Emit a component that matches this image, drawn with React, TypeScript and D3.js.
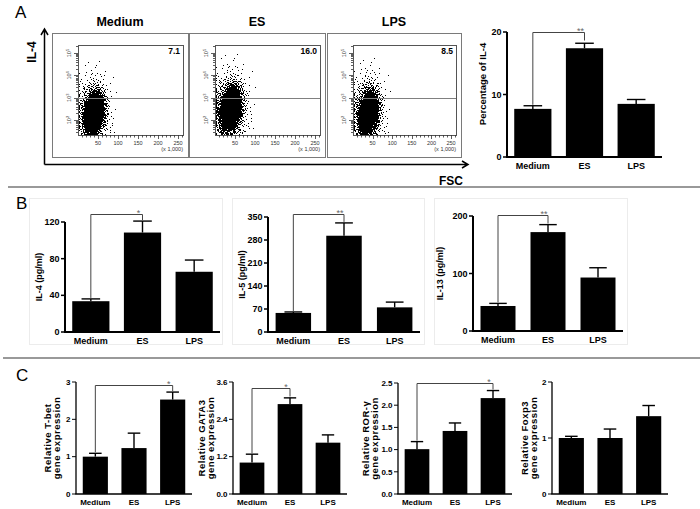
import { useEffect, useRef } from 'react'
import * as d3 from 'd3'

const categories = ['Medium', 'ES', 'LPS']

// A: flow cytometry (IL-4 vs FSC)
const flowTitles = ['Medium', 'ES', 'LPS']
const gatePercent = [7.1, 16.0, 8.5]
const gateLabels = ['7.1', '16.0', '8.5']
const fscCentre = [38, 38, 38] // x1,000
const fscSpread = [11, 12, 11]
const il4LogSpread = [0.42, 0.44, 0.44]
const flowXTicks = [50, 100, 150, 200, 250]
const flowDecades = [2, 3, 4, 5]

// A: percentage of IL-4
const il4Percent = [7.7, 17.4, 8.5]
const il4PercentErr = [0.5, 0.8, 0.7]
const pctTicks = [0, 10, 20]

// B: cytokines
const il4Conc = [33.6, 108.5, 65.7]
const il4ConcErr = [2.5, 12.5, 12.8]
const il4Ticks = [0, 40, 80, 120]
const il5Conc = [58, 293, 75]
const il5ConcErr = [3, 39, 16]
const il5Ticks = [0, 70, 140, 210, 280, 350]
const il13Conc = [43.5, 172, 93]
const il13ConcErr = [4.5, 13, 17]
const il13Ticks = [0, 100, 200]

// C: gene expression
const tbet = [1.0, 1.23, 2.53]
const tbetErr = [0.09, 0.4, 0.2]
const tbetTicks = [0, 1, 2, 3]
const gata3 = [1.01, 2.89, 1.65]
const gata3Err = [0.27, 0.2, 0.25]
const gata3Ticks = [0, 1.2, 2.4, 3.6]
const rorg = [1.01, 1.42, 2.16]
const rorgErr = [0.17, 0.18, 0.17]
const rorgTicks = [0, 0.5, 1, 1.5, 2, 2.5]
const foxp3 = [1.0, 1.0, 1.39]
const foxp3Err = [0.03, 0.16, 0.19]
const foxp3Ticks = [0, 1, 2]

const FONT = '"Liberation Sans", Arial, Helvetica, sans-serif'

type Panel = {
  values: number[]; errors: number[]; ticks: number[]; fmt: (v: number) => string
  label: string[]; sig?: [number, number, string]
  x0: number; x1: number; y0: number; y1: number; bracketY?: number
  labelX: number[]; labelY?: number; font: number; labelFont: number; pad: number; axisW: number
}

const f0 = d3.format('d')
const f1 = d3.format('.1f')

const panels: Panel[] = [
  { values: il4Percent, errors: il4PercentErr, ticks: pctTicks, fmt: f0, label: ['Percentage of IL-4'], sig: [0, 1, '**'],
    x0: 507, x1: 662, y0: 157, y1: 32, bracketY: 32, labelX: [483], labelY: 84, font: 9, labelFont: 9.5, pad: 0.28, axisW: 2 },
  { values: il4Conc, errors: il4ConcErr, ticks: il4Ticks, fmt: f0, label: ['IL-4 (pg/ml)'], sig: [0, 1, '*'],
    x0: 65, x1: 220, y0: 332, y1: 222, bracketY: 214, labelX: [39], font: 9, labelFont: 9, pad: 0.28, axisW: 2 },
  { values: il5Conc, errors: il5ConcErr, ticks: il5Ticks, fmt: f0, label: ['IL-5 (pg/ml)'], sig: [0, 1, '**'],
    x0: 268, x1: 420, y0: 332, y1: 217, bracketY: 214, labelX: [242], font: 9, labelFont: 9, pad: 0.3, axisW: 2 },
  { values: il13Conc, errors: il13ConcErr, ticks: il13Ticks, fmt: f0, label: ['IL-13 (pg/ml)'], sig: [0, 1, '**'],
    x0: 473, x1: 623, y0: 331, y1: 216, bracketY: 215, labelX: [440], font: 9, labelFont: 9, pad: 0.3, axisW: 2 },
  { values: tbet, errors: tbetErr, ticks: tbetTicks, fmt: f0, label: ['Relative T-bet', 'gene expression'], sig: [0, 2, '*'],
    x0: 76, x1: 192, y0: 494, y1: 382, bracketY: 385, labelX: [48, 57], font: 8, labelFont: 9.5, pad: 0.35, axisW: 1.3 },
  { values: gata3, errors: gata3Err, ticks: gata3Ticks, fmt: f1, label: ['Relative GATA3', 'gene expression'], sig: [0, 1, '*'],
    x0: 233, x1: 347, y0: 494, y1: 382, bracketY: 388, labelX: [202, 211], font: 8, labelFont: 9.5, pad: 0.35, axisW: 1.3 },
  { values: rorg, errors: rorgErr, ticks: rorgTicks, fmt: f1, label: ['Relative ROR-γ', 'gene expression'], sig: [0, 2, '*'],
    x0: 398, x1: 512, y0: 494, y1: 383, bracketY: 383, labelX: [366, 375], font: 8, labelFont: 9.5, pad: 0.35, axisW: 1.3 },
  { values: foxp3, errors: foxp3Err, ticks: foxp3Ticks, fmt: f0, label: ['Relative Foxp3', 'gene expression'],
    x0: 552, x1: 668, y0: 494, y1: 382, labelX: [525, 534], font: 8, labelFont: 9.5, pad: 0.35, axisW: 1.3 },
]

// --- helpers for the dot cloud (deterministic quantile sampling) ---
function halton(i: number, b: number) {
  let f = 1, r = 0
  while (i > 0) { f /= b; r += f * (i % b); i = Math.floor(i / b) }
  return r
}
function probit(p: number): number {
  const a = [-39.6968302866538, 220.946098424521, -275.928510446969, 138.357751867269, -30.6647980661472, 2.50662827745924]
  const b = [-54.4760987982241, 161.585836858041, -155.698979859887, 66.8013118877197, -13.2806815528857]
  const c = [-0.00778489400243029, -0.322396458041136, -2.40075827716184, -2.54973253934373, 4.37466414146497, 2.93816398269878]
  const d = [0.00778469570904146, 0.32246712907004, 2.445134137143, 3.75440866190742]
  const pl = 0.02425
  if (p < pl) {
    const q = Math.sqrt(-2 * Math.log(p))
    return (((((c[0] * q + c[1]) * q + c[2]) * q + c[3]) * q + c[4]) * q + c[5]) / ((((d[0] * q + d[1]) * q + d[2]) * q + d[3]) * q + 1)
  }
  if (p > 1 - pl) return -probit(1 - p)
  const q = p - 0.5, r = q * q
  return (((((a[0] * r + a[1]) * r + a[2]) * r + a[3]) * r + a[4]) * r + a[5]) * q / (((((b[0] * r + b[1]) * r + b[2]) * r + b[3]) * r + b[4]) * r + 1)
}
function phi(z: number) {
  const t = 1 / (1 + 0.3275911 * Math.abs(z) / Math.SQRT2)
  const e = 1 - (((((1.061405429 * t - 1.453152027) * t) + 1.421413741) * t - 0.284496736) * t + 0.254829592) * t * Math.exp(-z * z / 2)
  return z >= 0 ? 0.5 * (1 + e) : 0.5 * (1 - e)
}
const WIDE = 0.15
function gateMean(pct: number, s: number) {
  let lo = 0, hi = 3
  for (let k = 0; k < 40; k++) {
    const m = (lo + hi) / 2
    const frac = (1 - WIDE) * phi((m - 3) / s) + WIDE * phi((m - 3) / (s * 1.9))
    if (frac * 100 > pct) hi = m; else lo = m
  }
  return (lo + hi) / 2
}

function drawFlow(svg: d3.Selection<SVGSVGElement, unknown, null, undefined>) {
  const outerX = [52, 189, 327]
  const outerW = [136, 136, 134]
  const top = 33, bottom = 157
  const g = svg.append('g')

  flowTitles.forEach((t, k) => {
    const ox = outerX[k]
    g.append('rect').attr('x', ox + 0.5).attr('y', top + 0.5).attr('width', outerW[k]).attr('height', bottom - top)
      .attr('fill', 'none').attr('stroke', '#7a7a7a').attr('stroke-width', 1)
    g.append('text').attr('x', ox + outerW[k] / 2).attr('y', 26).attr('text-anchor', 'middle')
      .attr('font-size', 12.5).attr('font-weight', 'bold').text(t)

    const ix0 = ox + 26, ix1 = ox + outerW[k] - 5, iy0 = 45, iy1 = 135
    const x = d3.scaleLinear().domain([0, 262.5]).range([ix0, ix1])
    const y = d3.scaleLog().domain([10 ** 1.33, 10 ** 5.36]).range([iy1, iy0])

    // dots
    const m = gateMean(gatePercent[k], il4LogSpread[k])
    let p = ''
    const N = 5200
    for (let i = 1; i <= N; i++) {
      const wide = halton(i, 5) < WIDE
      const zx = probit(halton(i, 2) * 0.999 + 0.0005)
      const zy = probit(halton(i, 3) * 0.999 + 0.0005)
      const fx = Math.max(3, Math.min(262, fscCentre[k] + zx * fscSpread[k] * (wide ? 1.8 : 1) + (wide ? 0 : zy * 2.5)))
      const ly = Math.max(1.34, Math.min(5.35, m + zy * il4LogSpread[k] * (wide ? 1.9 : 1)))
      const px = Math.round(x(fx)), py = Math.round(y(10 ** ly))
      p += `M${px},${py}h1v1h-1z`
    }
    g.append('path').attr('d', p).attr('fill', '#000')

    g.append('rect').attr('x', ix0 + 0.5).attr('y', iy0 + 0.5).attr('width', ix1 - ix0).attr('height', iy1 - iy0)
      .attr('fill', 'none').attr('stroke', '#555').attr('stroke-width', 1)
    g.append('line').attr('x1', ix0).attr('x2', ix1).attr('y1', Math.round(y(1000)) + 0.5).attr('y2', Math.round(y(1000)) + 0.5)
      .attr('stroke', '#808080').attr('stroke-width', 1)

    // y ticks (log)
    for (let dcd = 1; dcd <= 5; dcd++) {
      for (let j = 1; j <= 9; j++) {
        const v = j * 10 ** dcd
        if (v < 10 ** 1.33 || v > 10 ** 5.36) continue
        const len = j === 1 ? 4 : 2
        const yy = Math.round(y(v)) + 0.5
        g.append('line').attr('x1', ix0 - len).attr('x2', ix0).attr('y1', yy).attr('y2', yy).attr('stroke', '#333').attr('stroke-width', 0.8)
      }
    }
    flowDecades.forEach(dcd => {
      const t = g.append('text').attr('transform', `translate(${ix0 - 7},${y(10 ** dcd)}) rotate(-90)`)
        .attr('text-anchor', 'middle').attr('font-size', 5.5).attr('fill', '#333')
      t.append('tspan').text('10')
      t.append('tspan').attr('dy', -2.5).attr('font-size', 4).text(String(dcd))
    })
    // x ticks
    for (let v = 10; v <= 260; v += 10) {
      const xx = Math.round(x(v)) + 0.5
      const len = v % 50 === 0 ? 4 : 2.5
      g.append('line').attr('x1', xx).attr('x2', xx).attr('y1', iy1).attr('y2', iy1 + len).attr('stroke', '#333').attr('stroke-width', 0.8)
    }
    flowXTicks.forEach(v => {
      g.append('text').attr('x', x(v)).attr('y', iy1 + 10).attr('text-anchor', 'middle').attr('font-size', 5.5).attr('fill', '#333').text(String(v))
    })
    g.append('text').attr('x', ix1).attr('y', iy1 + 16).attr('text-anchor', 'end').attr('font-size', 5.5).attr('fill', '#333').text('(x 1,000)')
    g.append('text').attr('x', ix1 - 3).attr('y', iy0 + 9).attr('text-anchor', 'end').attr('font-size', 8.5)
      .attr('font-weight', 'bold').text(gateLabels[k])
  })

  // axis arrows
  const ax = 44.5, ay = 164.5
  g.append('path').attr('d', `M${ax},${ay}V30M${ax - 3.5},35L${ax},29L${ax + 3.5},35`).attr('fill', 'none').attr('stroke', '#000').attr('stroke-width', 1.5)
  g.append('path').attr('d', `M${ax},${ay}H467M462,${ay - 3.5}L468,${ay}L462,${ay + 3.5}`).attr('fill', 'none').attr('stroke', '#000').attr('stroke-width', 1.5)
  g.append('text').attr('transform', 'translate(32,52) rotate(-90)').attr('dy', '0.35em').attr('text-anchor', 'middle')
    .attr('font-size', 12).attr('font-weight', 'bold').text('IL-4')
  g.append('text').attr('x', 451).attr('y', 185).attr('text-anchor', 'middle').attr('font-size', 12).attr('font-weight', 'bold').text('FSC')
}

function drawBarPanel(svg: d3.Selection<SVGSVGElement, unknown, null, undefined>, c: Panel) {
  const g = svg.append('g')
  const max = c.ticks[c.ticks.length - 1]
  const y = d3.scaleLinear().domain([0, max]).range([c.y0, c.y1])
  const x = d3.scaleBand<string>().domain(categories).range([c.x0, c.x1]).paddingInner(c.pad).paddingOuter(c.pad / 2)
  const bw = x.bandwidth()

  // error bars
  categories.forEach((cat, i) => {
    const cx = x(cat)! + bw / 2
    const v = c.values[i], e = c.errors[i]
    g.append('line').attr('x1', cx).attr('x2', cx).attr('y1', y(v)).attr('y2', y(v + e)).attr('stroke', '#000').attr('stroke-width', 1.4)
    g.append('line').attr('x1', cx - bw / 4).attr('x2', cx + bw / 4).attr('y1', y(v + e)).attr('y2', y(v + e)).attr('stroke', '#000').attr('stroke-width', 1.4)
  })
  g.selectAll('rect.bar').data(c.values).join('rect').attr('class', 'bar')
    .attr('x', (_, i) => x(categories[i])!).attr('width', bw)
    .attr('y', d => y(d)).attr('height', d => c.y0 - y(d)).attr('fill', '#000')

  // axes
  g.append('line').attr('x1', c.x0).attr('x2', c.x0).attr('y1', c.y0).attr('y2', c.y1).attr('stroke', '#000').attr('stroke-width', c.axisW)
  g.append('line').attr('x1', c.x0 - c.axisW / 2).attr('x2', c.x1).attr('y1', c.y0).attr('y2', c.y0).attr('stroke', '#000').attr('stroke-width', c.axisW)
  c.ticks.forEach(t => {
    g.append('line').attr('x1', c.x0 - 4).attr('x2', c.x0).attr('y1', y(t)).attr('y2', y(t)).attr('stroke', '#000').attr('stroke-width', c.axisW * 0.75)
    g.append('text').attr('x', c.x0 - 5.5).attr('y', y(t)).attr('dy', '0.35em').attr('text-anchor', 'end')
      .attr('font-size', c.font).attr('font-weight', 'bold').text(c.fmt(t))
  })
  categories.forEach(cat => {
    g.append('text').attr('x', x(cat)! + bw / 2).attr('y', c.y0 + c.font + 3).attr('text-anchor', 'middle')
      .attr('font-size', c.font).attr('font-weight', 'bold').text(cat)
  })

  // y label
  const ly = c.labelY ?? (c.y0 + c.y1) / 2
  c.label.forEach((s, i) => {
    g.append('text').attr('transform', `translate(${c.labelX[i]},${ly}) rotate(-90)`).attr('dy', '0.35em')
      .attr('text-anchor', 'middle').attr('font-size', c.labelFont).attr('font-weight', 'bold')
      .attr('letter-spacing', c.font < 9 ? 0.5 : 0).text(s)
  })

  // significance bracket
  if (c.sig && c.bracketY !== undefined) {
    const [a, b, mark] = c.sig
    const xa = x(categories[a])! + bw / 2, xb = x(categories[b])! + bw / 2
    const by = c.bracketY + 0.5
    const ya = y(c.values[a] + c.errors[a]) - 1
    const yb = Math.min(y(c.values[b] + c.errors[b]) - 1, by + 8)
    g.append('path').attr('d', `M${xa},${ya}V${by}H${xb}V${yb}`).attr('fill', 'none').attr('stroke', '#444').attr('stroke-width', 1)
    g.append('text').attr('x', xb - 4).attr('y', by + 1).attr('text-anchor', 'middle').attr('font-size', 9).attr('fill', '#666').text(mark)
  }
}

export default function App() {
  const ref = useRef<SVGSVGElement>(null)

  useEffect(() => {
    if (!ref.current) return
    const svg = d3.select(ref.current)
    svg.selectAll('*').remove()

    svg.append('rect').attr('width', 700).attr('height', 509).attr('fill', '#fff')

    // panel letters
    svg.append('text').attr('x', 15).attr('y', 18).attr('font-size', 17).text('A')
    svg.append('text').attr('x', 16).attr('y', 209).attr('font-size', 17).text('B')
    svg.append('text').attr('x', 16).attr('y', 381).attr('font-size', 17).text('C')

    // separators
    svg.append('line').attr('x1', 8).attr('x2', 700).attr('y1', 187).attr('y2', 187).attr('stroke', '#999').attr('stroke-width', 2)
    svg.append('line').attr('x1', 3).attr('x2', 700).attr('y1', 358).attr('y2', 358).attr('stroke', '#999').attr('stroke-width', 2)

    // faint frames round the B charts
    ;[[29, 193], [232, 192], [434, 193]].forEach(([bx, bwid]) => {
      svg.append('rect').attr('x', bx + 0.5).attr('y', 198.5).attr('width', bwid).attr('height', 146)
        .attr('fill', 'none').attr('stroke', '#ececec').attr('stroke-width', 1)
    })

    drawFlow(svg)
    panels.forEach(p => drawBarPanel(svg, p))
  }, [])

  return (
    <svg ref={ref} width={700} height={509} fontFamily={FONT}
      style={{ position: 'absolute', left: 0, top: 0, display: 'block' }} />
  )
}
